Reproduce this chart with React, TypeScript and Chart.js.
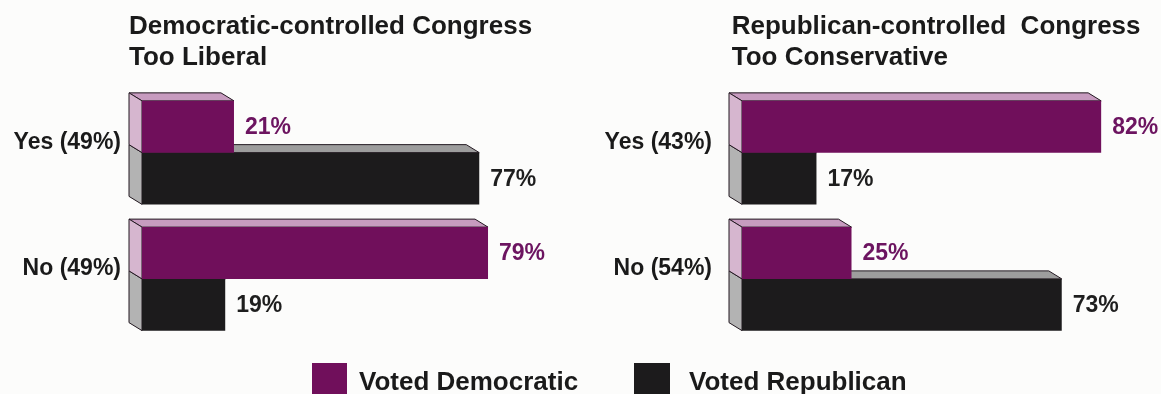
import React, { useEffect, useRef } from "react";
import { Chart, registerables } from "chart.js";

Chart.register(...registerables);

// ---- data ----
const SERIES_NAMES = ["Voted Democratic", "Voted Republican"];
const LEFT_TITLE = ["Democratic-controlled Congress", "Too Liberal"];
const LEFT_CATEGORIES = ["Yes (49%)", "No (49%)"];
const LEFT_DEM = [21, 79];
const LEFT_REP = [77, 19];
const RIGHT_TITLE = ["Republican-controlled  Congress", "Too Conservative"];
const RIGHT_CATEGORIES = ["Yes (43%)", "No (54%)"];
const RIGHT_DEM = [82, 25];
const RIGHT_REP = [17, 73];

// ---- style ----
const FONT = "'Liberation Sans', Arial, Helvetica, sans-serif";
const DEM_FRONT = "#700f5b";
const DEM_TOP = "#c79bbf";
const DEM_SIDE = "#d6b6cf";
const DEM_TEXT = "#6c1460";
const REP_FRONT = "#1c1b1c";
const REP_TOP = "#9d9d9d";
const REP_SIDE = "#b3b3b3";
const REP_TEXT = "#1e1e1e";
const EDGE = "#221820";
const DEPTH_X = -13;
const DEPTH_Y = -8;

const CANVAS_W = 600;
const CANVAS_H = 392;

const faces3d = {
  id: "faces3d",
  beforeDatasetsDraw(chart: any) {
    const ctx = chart.ctx;
    const tops = [DEM_TOP, REP_TOP];
    const sides = [DEM_SIDE, REP_SIDE];
    ctx.save();
    ctx.lineWidth = 1;
    ctx.strokeStyle = EDGE;
    for (let di = chart.data.datasets.length - 1; di >= 0; di--) {
      const meta = chart.getDatasetMeta(di);
      meta.data.forEach((el: any) => {
        const p = el.getProps(["x", "y", "base", "height"], true);
        const l = Math.min(p.x, p.base);
        const r = Math.max(p.x, p.base);
        const t = p.y - p.height / 2;
        const b = p.y + p.height / 2;
        // top face
        ctx.beginPath();
        ctx.moveTo(l, t);
        ctx.lineTo(r, t);
        ctx.lineTo(r + DEPTH_X, t + DEPTH_Y);
        ctx.lineTo(l + DEPTH_X, t + DEPTH_Y);
        ctx.closePath();
        ctx.fillStyle = tops[di];
        ctx.fill();
        ctx.stroke();
        // left face
        ctx.beginPath();
        ctx.moveTo(l, t);
        ctx.lineTo(l, b);
        ctx.lineTo(l + DEPTH_X, b + DEPTH_Y);
        ctx.lineTo(l + DEPTH_X, t + DEPTH_Y);
        ctx.closePath();
        ctx.fillStyle = sides[di];
        ctx.fill();
        ctx.stroke();
      });
    }
    ctx.restore();
  },
};

const valueLabels = {
  id: "valueLabels",
  afterDatasetsDraw(chart: any) {
    const ctx = chart.ctx;
    const colors = [DEM_TEXT, REP_TEXT];
    ctx.save();
    ctx.font = `bold 23px ${FONT}`;
    ctx.textBaseline = "middle";
    ctx.textAlign = "left";
    chart.data.datasets.forEach((ds: any, di: number) => {
      const meta = chart.getDatasetMeta(di);
      meta.data.forEach((el: any, i: number) => {
        const p = el.getProps(["x", "y"], true);
        ctx.fillStyle = colors[di];
        ctx.fillText(`${ds.data[i]}%`, p.x + 11, p.y + 1);
      });
    });
    ctx.restore();
  },
};

const panelTitle = {
  id: "panelTitle",
  afterDraw(chart: any) {
    const opts = chart.options.plugins.panelTitle;
    if (!opts) return;
    const ctx = chart.ctx;
    ctx.save();
    ctx.font = `bold 26px ${FONT}`;
    ctx.fillStyle = "#1a1a1a";
    ctx.textBaseline = "alphabetic";
    ctx.textAlign = "left";
    opts.lines.forEach((line: string, i: number) => {
      ctx.fillText(line, opts.x, 34 + i * 31);
    });
    ctx.restore();
  },
};

function Panel(props: {
  left: number;
  title: string[];
  categories: string[];
  dem: number[];
  rep: number[];
  titleX: number;
  labelPad: number;
}) {
  const ref = useRef<HTMLCanvasElement>(null);
  useEffect(() => {
    if (!ref.current) return;
    const chart = new Chart(ref.current, {
      type: "bar",
      data: {
        labels: props.categories,
        datasets: [
          {
            label: SERIES_NAMES[0],
            data: props.dem,
            backgroundColor: DEM_FRONT,
            borderWidth: 0,
          },
          {
            label: SERIES_NAMES[1],
            data: props.rep,
            backgroundColor: REP_FRONT,
            borderWidth: 0,
          },
        ],
      },
      options: {
        indexAxis: "y",
        responsive: false,
        animation: false,
        devicePixelRatio: 1,
        layout: {
          padding: { left: 0, right: CANVAS_W - 580, top: 89.5, bottom: CANVAS_H - 342 },
        },
        datasets: {
          bar: { categoryPercentage: 0.82, barPercentage: 1 },
        },
        scales: {
          x: { display: false, min: 0, max: 100 },
          y: {
            type: "category",
            grid: { display: false, drawTicks: false },
            border: { display: false },
            ticks: {
              padding: props.labelPad,
              labelOffset: -10,
              color: "#1a1a1a",
              font: { family: FONT, size: 23, weight: "bold" },
            },
            afterFit: (s: any) => {
              s.width = 142;
            },
          },
        },
        plugins: {
          legend: { display: false },
          tooltip: { enabled: false },
          panelTitle: { lines: props.title, x: props.titleX },
        } as any,
      } as any,
      plugins: [faces3d, valueLabels, panelTitle],
    });
    return () => chart.destroy();
  }, []);
  return (
    <canvas
      ref={ref}
      width={CANVAS_W}
      height={CANVAS_H}
      style={{ position: "absolute", left: props.left, top: 0, width: CANVAS_W, height: CANVAS_H }}
    />
  );
}

export default function App() {
  const legendText: React.CSSProperties = {
    position: "absolute",
    top: 368,
    fontFamily: FONT,
    fontWeight: "bold",
    fontSize: 26,
    lineHeight: "26px",
    color: "#1a1a1a",
    whiteSpace: "nowrap",
  };
  return (
    <div
      style={{
        position: "fixed",
        left: 0,
        top: 0,
        width: 1161,
        height: 394,
        overflow: "hidden",
        background: "#fcfcfb",
      }}
    >
      <Panel
        left={0}
        title={LEFT_TITLE}
        categories={LEFT_CATEGORIES}
        dem={LEFT_DEM}
        rep={LEFT_REP}
        titleX={129}
        labelPad={21}
      />
      <Panel
        left={600}
        title={RIGHT_TITLE}
        categories={RIGHT_CATEGORIES}
        dem={RIGHT_DEM}
        rep={RIGHT_REP}
        titleX={131.7}
        labelPad={30}
      />
      <div style={{ position: "absolute", left: 312, top: 363, width: 35, height: 40, background: DEM_FRONT }} />
      <div style={{ ...legendText, left: 359 }}>{SERIES_NAMES[0]}</div>
      <div style={{ position: "absolute", left: 634, top: 363, width: 36, height: 40, background: REP_FRONT }} />
      <div style={{ ...legendText, left: 689 }}>{SERIES_NAMES[1]}</div>
    </div>
  );
}
